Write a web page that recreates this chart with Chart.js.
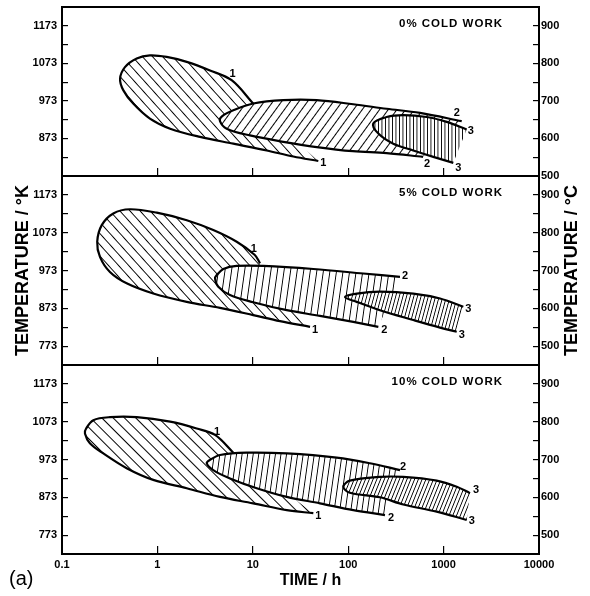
<!DOCTYPE html>
<html>
<head>
<meta charset="utf-8">
<script src="https://cdn.jsdelivr.net/npm/chart.js@4.4.0/dist/chart.umd.min.js"></script>
<style>
  html, body { margin: 0; padding: 0; background: #fff; }
  #wrap { position: relative; width: 590px; height: 596px; }
  #wrap canvas { position: absolute; left: 0; top: 0; }
</style>
</head>
<body>
<div id="wrap">
  <canvas id="panel0" width="590" height="596"></canvas>
  <canvas id="panel1" width="590" height="596"></canvas>
  <canvas id="panel2" width="590" height="596"></canvas>
</div>
<script>
// axes
const timeTicks = [0.1, 1, 10, 100, 1000, 10000];
const timeTickLabels = ['0.1', '1', '10', '100', '1000', '10000'];
const kelvinTicks = [773, 823, 873, 923, 973, 1023, 1073, 1123, 1173];
const celsiusTicks = [500, 550, 600, 650, 700, 750, 800, 850, 900];
const panelTitles = ['0% COLD WORK', '5% COLD WORK', '10% COLD WORK'];
const panelMinK = [773, 723, 723];
const panelMaxK = [1223, 1223, 1223];

// each curve: upper end -> nose -> lower end (time in h, temperature in K)
const cw0Time1 = [10.1, 6.0, 3.56, 2.03, 1.25, 0.835, 0.607, 0.457, 0.406, 0.44, 0.558, 0.835, 1.36, 2.8, 6.25, 14.0, 26.6, 48.6];
const cw0Temp1 = [966, 1028, 1054, 1077, 1090, 1094, 1086, 1063, 1032, 1001, 966, 926, 899, 877, 859, 841, 825, 813];
const cw0Time2 = [1549, 566, 253, 113, 46.8, 20.9, 10.1, 6.25, 4.75, 4.53, 5.33, 9.35, 20.9, 46.8, 112, 253, 608];
const cw0Temp2 = [919, 941, 952, 964, 975, 975, 966, 948, 932, 919, 899, 881, 864, 850, 839, 834, 824];
const cw0Time3 = [1746, 1078, 665, 378, 253, 183, 207, 297, 481, 780, 1264];
const cw0Temp3 = [897, 917, 930, 935, 930, 913, 886, 859, 841, 824, 808];

const cw5Time1 = [11.9, 10.5, 6.78, 3.85, 2.03, 0.984, 0.516, 0.345, 0.261, 0.234, 0.25, 0.318, 0.476, 0.905, 2.03, 4.53, 10.1, 19.3, 39.8];
const cw5Temp1 = [992, 1014, 1049, 1080, 1106, 1126, 1135, 1124, 1093, 1049, 1009, 969, 939, 912, 890, 874, 855, 839, 824];
const cw5Time2 = [349, 144, 43.1, 12.9, 6.78, 4.91, 4.19, 4.02, 4.35, 5.77, 10.1, 22.7, 50.6, 113, 207];
const cw5Temp2 = [956, 965, 977, 985, 985, 977, 961, 952, 930, 908, 889, 868, 853, 837, 824];
const cw5Time3 = [1610, 917, 481, 215, 123, 92.5, 123, 215, 481, 917, 1372];
const cw5Temp3 = [877, 899, 912, 917, 912, 903, 890, 868, 842, 822, 811];

const cw10Time1 = [6.25, 4.02, 2.58, 1.36, 0.607, 0.318, 0.213, 0.179, 0.174, 0.196, 0.271, 0.476, 0.905, 2.03, 4.53, 10.1, 22.7, 43.1];
const cw10Temp1 = [991, 1038, 1055, 1073, 1085, 1085, 1077, 1055, 1042, 1016, 989, 950, 919, 897, 874, 857, 839, 831];
const cw10Time2 = [349, 169, 75.7, 22.7, 8.63, 4.53, 3.56, 3.29, 3.85, 5.77, 11, 22.7, 50.6, 113, 243];
const cw10Temp2 = [945, 963, 978, 989, 991, 985, 972, 963, 945, 923, 897, 874, 857, 839, 826];
const cw10Time3 = [1891, 1372, 847, 378, 215, 104, 88.9, 104, 215, 378, 847, 1746];
const cw10Temp3 = [884, 901, 917, 927, 927, 917, 901, 885, 873, 854, 835, 813];

const curves = [
  [[cw0Time1, cw0Temp1], [cw0Time2, cw0Temp2], [cw0Time3, cw0Temp3]],
  [[cw5Time1, cw5Temp1], [cw5Time2, cw5Temp2], [cw5Time3, cw5Temp3]],
  [[cw10Time1, cw10Temp1], [cw10Time2, cw10Temp2], [cw10Time3, cw10Temp3]]
];

// styling
const FONT = "'Liberation Sans', Arial, sans-serif";
Chart.defaults.font.family = FONT;
Chart.defaults.color = '#000';

// chart area of each panel (px in the page)
const panelBox = [
  { top: 7, bottom: 176, xHeight: 0 },
  { top: 176, bottom: 365, xHeight: 0 },
  { top: 365, bottom: 554, xHeight: 31 }
];

// [lean from vertical in deg (+ is "/"), line gap]
const hatchStyles = [
  [[-42, 7.5], [36, 7], [0, 3.5]],
  [[-42, 7.5], [8, 6.5], [15, 3.5]],
  [[-45, 8], [8, 5.5], [22, 3.5]]
];

// [index of upper label point, dx, dy, lower dx, lower dy]
const labelOffsets = [
  [[1, 1, -6, 5, 2], [0, -5, -8, 4, 7], [0, 4, 2, 5, 5]],
  [[1, -1, -6, 5, 3], [0, 5, -1, 6, 3], [0, 5, 2, 5, 3]],
  [[1, 2, -3, 5, 3], [0, 3, -3, 6, 3], [0, 6, -3, 5, 1]]
];

function hatch(lean, gap) {
  const w = Math.max(2, Math.round(gap));
  const tile = document.createElement('canvas');
  tile.width = w;
  tile.height = 8;
  const t = tile.getContext('2d');
  t.fillStyle = '#fff';
  t.fillRect(0, 0, w, 8);
  t.fillStyle = '#000';
  t.fillRect(0, 0, 1, 8);
  const pat = t.createPattern(tile, 'repeat');
  pat.setTransform(new DOMMatrix().rotate(lean).scale(gap / w, 1));
  return pat;
}

const decorations = {
  id: 'decorations',
  afterDraw(chart, args, opts) {
    const { ctx, chartArea: a, scales } = chart;
    ctx.save();

    ctx.strokeStyle = '#000';
    ctx.lineWidth = 2;
    ctx.strokeRect(a.left, a.top, a.right - a.left, a.bottom - a.top);

    ctx.fillStyle = '#000';
    ctx.textAlign = 'center';
    ctx.textBaseline = 'middle';
    ctx.font = 'bold 11px ' + FONT;
    chart.data.datasets.forEach(ds => {
      ds.endLabels.forEach(([i, dx, dy]) => {
        const pt = ds.data[i];
        ctx.fillText(ds.label, scales.x.getPixelForValue(pt.x) + dx, scales.yK.getPixelForValue(pt.y) + dy);
      });
    });

    ctx.textAlign = 'right';
    ctx.font = 'bold 11.5px ' + FONT;
    ctx.letterSpacing = '1px';
    ctx.fillText(opts.caption, a.right - 36, a.top + 17);
    ctx.letterSpacing = '0px';

    if (opts.rightTitle) {
      ctx.save();
      ctx.translate(a.right + 33, (a.top + a.bottom) / 2);
      ctx.rotate(-Math.PI / 2);
      ctx.textAlign = 'center';
      ctx.font = 'bold 18px ' + FONT;
      ctx.fillText(opts.rightTitle, 0, 0);
      ctx.restore();
    }

    if (opts.timeTitle) {
      ctx.textAlign = 'center';
      ctx.font = 'bold 16px ' + FONT;
      ctx.fillText(opts.timeTitle, (a.left + a.right) / 2 + 10, a.bottom + 27);
      ctx.textAlign = 'left';
      ctx.font = '20px ' + FONT;
      ctx.fillText('(a)', 9, a.bottom + 25);
    }
    ctx.restore();
  }
};

function tickGrid(len) {
  return { drawOnChartArea: false, drawTicks: true, tickLength: len, color: '#000', lineWidth: 1.2, z: 1 };
}

function buildPanel(p) {
  const box = panelBox[p];
  const last = p === 2;
  const kMin = panelMinK[p];
  const kMax = panelMaxK[p];

  const datasets = curves[p].map(([times, temps], idx) => {
    const [lean, gap] = hatchStyles[p][idx];
    const [ui, udx, udy, ldx, ldy] = labelOffsets[p][idx];
    return {
      label: String(idx + 1),
      data: times.map((t, i) => ({ x: t, y: temps[i] })),
      xAxisID: 'x',
      yAxisID: 'yK',
      showLine: true,
      fill: 'shape',
      backgroundColor: hatch(lean, gap),
      borderColor: '#000',
      borderWidth: 2.2,
      tension: 0.35,
      pointRadius: 0,
      order: 3 - idx,
      endLabels: [[ui, udx, udy], [times.length - 1, ldx, ldy]]
    };
  });

  return new Chart(document.getElementById('panel' + p), {
    type: 'scatter',
    data: { datasets },
    plugins: [decorations],
    options: {
      responsive: false,
      animation: false,
      events: [],
      layout: {
        autoPadding: false,
        padding: { left: 0, right: 0, top: box.top, bottom: 596 - box.bottom - box.xHeight }
      },
      plugins: {
        legend: { display: false },
        tooltip: { enabled: false },
        decorations: {
          caption: panelTitles[p],
          rightTitle: p === 1 ? 'TEMPERATURE / °C' : null,
          timeTitle: last ? 'TIME / h' : null
        }
      },
      scales: {
        x: {
          type: 'logarithmic',
          position: 'bottom',
          min: 0.1,
          max: 10000,
          afterBuildTicks: s => { s.ticks = timeTicks.map(v => ({ value: v })); },
          afterFit: s => { s.height = box.xHeight; s.paddingLeft = 0; s.paddingRight = 0; },
          grid: tickGrid(-8),
          border: { display: false },
          ticks: {
            display: last,
            autoSkip: false,
            maxRotation: 0,
            padding: 12,
            font: { size: 11, weight: 'bold' },
            callback: v => timeTickLabels[timeTicks.indexOf(v)]
          }
        },
        yK: {
          axis: 'y',
          position: 'left',
          min: kMin,
          max: kMax,
          afterBuildTicks: s => { s.ticks = kelvinTicks.filter(v => v > kMin && v < kMax).map(v => ({ value: v })); },
          afterFit: s => { s.width = 62; s.paddingTop = 0; s.paddingBottom = 0; },
          grid: tickGrid(-6),
          border: { display: false },
          title: {
            display: p === 1,
            text: 'TEMPERATURE / °K',
            font: { size: 18, weight: 'bold' },
            padding: { top: 12, bottom: 0 }
          },
          ticks: {
            autoSkip: false,
            padding: 11,
            font: { size: 11, weight: 'bold' },
            callback: v => ((v - 773) % 100 === 0 ? String(v) : '')
          }
        },
        yC: {
          axis: 'y',
          position: 'right',
          display: true,
          min: kMin - 273,
          max: kMax - 273,
          afterBuildTicks: s => { s.ticks = celsiusTicks.filter(v => v >= kMin - 273 && v < kMax - 273).map(v => ({ value: v })); },
          afterFit: s => { s.width = 51; s.paddingTop = 0; s.paddingBottom = 0; },
          grid: tickGrid(-6),
          border: { display: false },
          ticks: {
            autoSkip: false,
            padding: 8,
            font: { size: 11, weight: 'bold' },
            callback: v => (v % 100 === 0 ? String(v) : '')
          }
        }
      }
    }
  });
}

[0, 1, 2].forEach(buildPanel);
</script>
</body>
</html>
